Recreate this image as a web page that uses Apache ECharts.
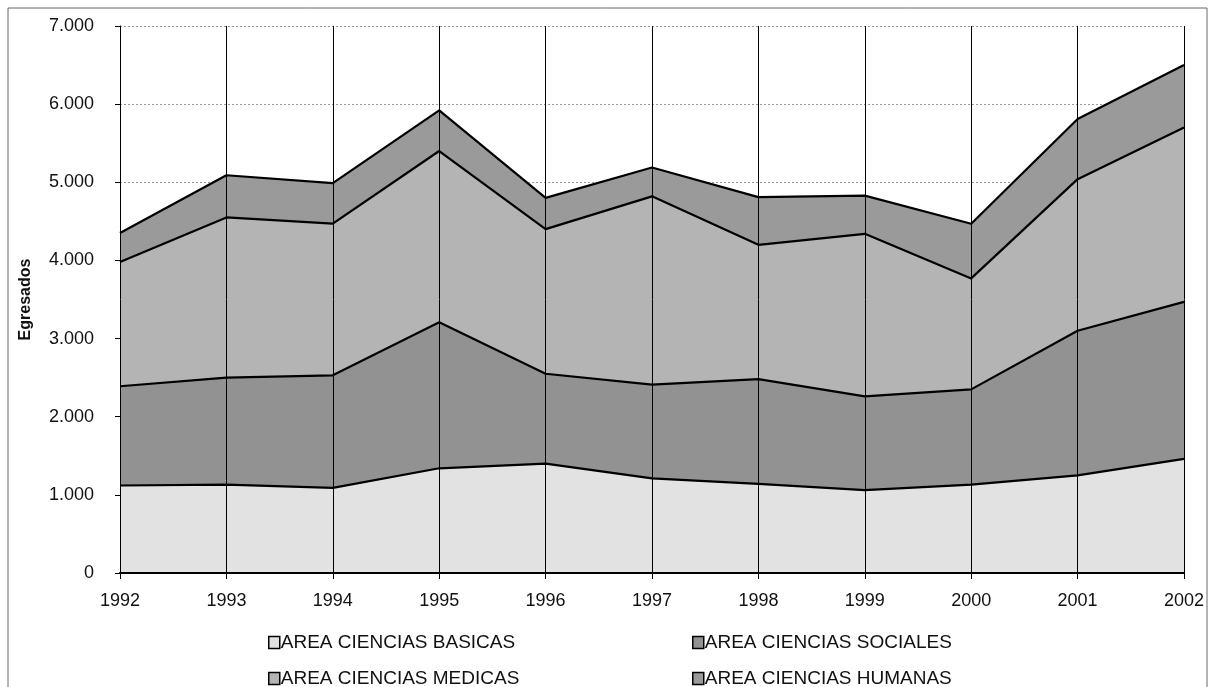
<!DOCTYPE html>
<html>
<head>
<meta charset="utf-8">
<script src="https://cdn.jsdelivr.net/npm/echarts@6/dist/echarts.min.js"></script>
<style>
html,body{margin:0;padding:0;background:#fff;}
#chart{width:1216px;height:687px;}
</style>
</head>
<body>
<div id="chart"></div>
<script>
var years = ['1992','1993','1994','1995','1996','1997','1998','1999','2000','2001','2002'];
var basicas  = [1120,1130,1090,1340,1400,1210,1140,1060,1130,1250,1460];
var sociales = [1270,1370,1440,1870,1150,1200,1340,1200,1220,1850,2010];
var medicas  = [1590,2050,1940,2190,1850,2410,1720,2080,1420,1940,2230];
var humanas  = [370,540,520,520,400,370,610,490,700,770,800];
var names = ['AREA CIENCIAS BASICAS','AREA CIENCIAS SOCIALES','AREA CIENCIAS MEDICAS','AREA CIENCIAS HUMANAS'];
var colors = ['#e2e2e2','#929292','#b4b4b4','#9a9a9a'];
var FONT = 'Liberation Sans, Arial, sans-serif';

function mk(i, data){
  return {
    name: names[i], type:'line', stack:'total', data:data, symbol:'none',
    lineStyle:{color:'#000', width:2.2},
    itemStyle:{color:colors[i], borderColor:'#000', borderWidth:1},
    areaStyle:{color:colors[i], opacity:1},
    z: 2
  };
}
function leg(name, left, top){
  return {
    data:[name], left:left, top:top, orient:'horizontal', padding:0,
    itemWidth:11, itemHeight:12, icon:'rect',
    itemStyle:{borderColor:'#000', borderWidth:1.5},
    textStyle:{fontSize:19, color:'#111', fontFamily:FONT, padding:[0,0,0,-4]}
  };
}
var chart = echarts.init(document.getElementById('chart'));
chart.setOption({
  animation:false,
  backgroundColor:'#fff',
  textStyle:{fontFamily:FONT},
  graphic:[{type:'rect', shape:{x:8,y:8,width:1199,height:700}, style:{fill:null, stroke:'#666', lineWidth:1}, silent:true}],
  grid:{left:120, right:32, top:26, bottom:114},
  legend:[
    leg(names[0], 268, 633),
    leg(names[1], 692, 633),
    leg(names[2], 268, 669),
    leg(names[3], 692, 669)
  ],
  xAxis:{
    type:'category', data:years, boundaryGap:false,
    axisLine:{lineStyle:{color:'#000', width:2}},
    axisTick:{show:true, alignWithLabel:true, length:6, lineStyle:{color:'#000'}},
    axisLabel:{fontSize:18, color:'#111', margin:19, fontFamily:FONT},
    splitLine:{show:true, lineStyle:{color:'#000', width:1}},
    z: 5
  },
  yAxis:{
    type:'value', min:0, max:7000, interval:1000,
    name:'Egresados', nameLocation:'middle', nameGap:86, nameRotate:90,
    nameTextStyle:{fontSize:16, fontWeight:'bold', color:'#111', fontFamily:FONT},
    axisLine:{show:true, lineStyle:{color:'#000', width:1}},
    axisTick:{show:true, length:5, lineStyle:{color:'#000'}},
    axisLabel:{fontSize:18, color:'#111', margin:26, fontFamily:FONT,
      formatter:function(v){return v===0?'0':String(v).replace(/\B(?=(\d{3})+(?!\d))/g,'.');}},
    splitLine:{show:true, lineStyle:{color:'#999', width:1, type:[2,2]}}
  },
  series:[mk(0,basicas), mk(1,sociales), mk(2,medicas), mk(3,humanas)]
});
</script>
</body>
</html>
